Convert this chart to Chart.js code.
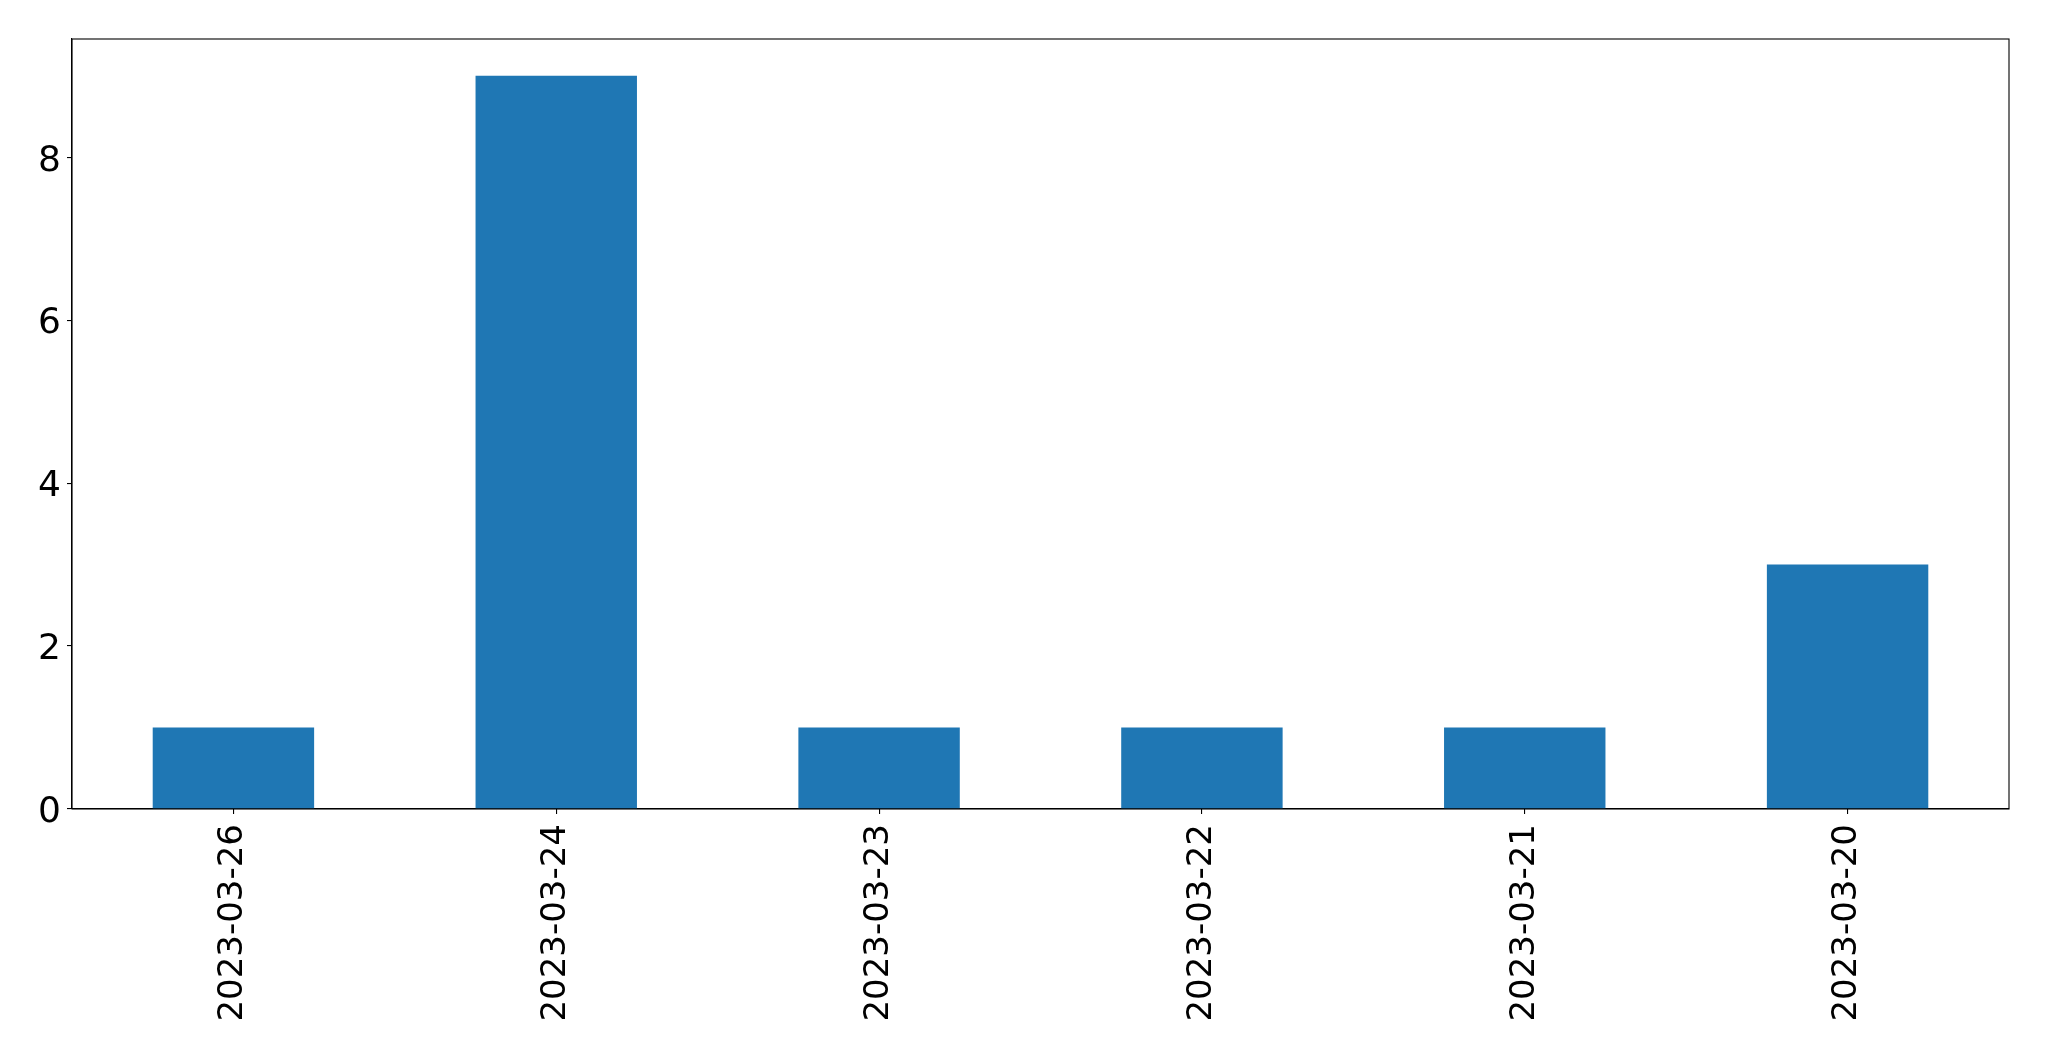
<!DOCTYPE html>
<html>
<head>
<meta charset="utf-8">
<script src="https://cdn.jsdelivr.net/npm/chart.js@4"></script>
<style>
html,body{margin:0;padding:0;background:#fff;}
canvas{display:block;}
</style>
</head>
<body>
<canvas id="c" width="2049" height="1061"></canvas>
<script>
const categories = ["2023-03-26","2023-03-24","2023-03-23","2023-03-22","2023-03-21","2023-03-20"];
const counts = [1, 9, 1, 1, 1, 3];
const yTicks = [0, 2, 4, 6, 8];
const yMax = 9.45;

const frame = {
  id: 'frame',
  afterDraw(chart) {
    const a = chart.chartArea, ctx = chart.ctx;
    ctx.save();
    ctx.strokeStyle = '#000';
    ctx.lineWidth = 1.1;
    ctx.strokeRect(a.left, a.top, a.right - a.left, a.bottom - a.top);
    ctx.restore();
  }
};

Chart.defaults.font.family = '"DejaVu Sans", sans-serif';
new Chart(document.getElementById('c'), {
  type: 'bar',
  data: {
    labels: categories,
    datasets: [{ data: counts, backgroundColor: '#1f77b4', borderWidth: 0,
      barPercentage: 0.5, categoryPercentage: 1.0 }]
  },
  options: {
    responsive: false,
    devicePixelRatio: 1,
    animation: false,
    layout: { padding: { left: 0, right: 40, top: 39, bottom: 0 } },
    plugins: { legend: { display: false }, tooltip: { enabled: false } },
    scales: {
      x: {
        offset: true,
        grid: { display: true, offset: false, drawOnChartArea: false, drawTicks: true, tickLength: 5, color: '#000', lineWidth: 1.1 },
        border: { display: true, color: '#000', width: 1.1 },
        ticks: { color: '#000', font: { size: 34 }, minRotation: 90, maxRotation: 90, autoSkip: false, padding: 10 },
        afterFit(s) { s.height = 252; }
      },
      y: {
        min: 0, max: yMax,
        afterBuildTicks(s) { s.ticks = yTicks.map(v => ({ value: v })); },
        grid: { display: true, drawOnChartArea: false, drawTicks: true, tickLength: 5, color: '#000', lineWidth: 1.1 },
        border: { display: true, color: '#000', width: 1.1 },
        ticks: { color: '#000', font: { size: 36 }, padding: 6, labelOffset: 4 },
        afterFit(s) { s.width = 72; }
      }
    }
  },
  plugins: [frame]
});
</script>
</body>
</html>
